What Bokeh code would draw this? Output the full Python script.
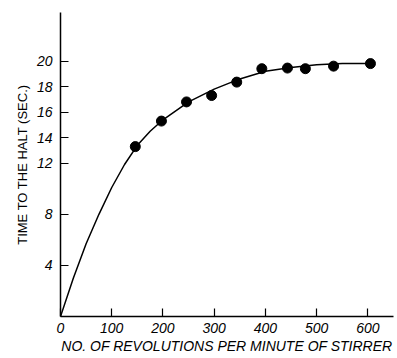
from bokeh.plotting import figure
from bokeh.models import FixedTicker, Range1d
from bokeh.embed import file_html
from bokeh.resources import INLINE

# measured points
rpm_pts = [146, 197, 246, 295, 344, 393, 443, 478, 533, 605]
time_pts = [13.3, 15.3, 16.8, 17.3, 18.35, 19.4, 19.45, 19.4, 19.6, 19.8]

# fitted curve
rpm_curve = [0, 25, 50, 75, 100, 125, 150, 175, 200, 250, 300, 350, 400, 450, 500, 550, 600]
time_curve = [0, 3.0, 5.7, 8.0, 10.1, 11.9, 13.4, 14.5, 15.4, 16.8, 17.8, 18.6, 19.2, 19.5, 19.7, 19.8, 19.8]

x_ticks = [0, 100, 200, 300, 400, 500, 600]
y_ticks = [4, 8, 12, 14, 16, 18, 20]

p = figure(width=397, height=358, output_backend="svg", toolbar_location=None,
           x_range=Range1d(0, 650), y_range=Range1d(0, 23.8),
           min_border_left=60, min_border_right=4, min_border_top=12, min_border_bottom=42)
p.outline_line_color = None
p.xgrid.visible = False
p.ygrid.visible = False
p.background_fill_color = "white"

p.line(rpm_curve, time_curve, line_color="black", line_width=1.5, line_join="round")
p.scatter(rpm_pts, time_pts, size=10, color="black")

font = "Liberation Sans"
for ax in (p.xaxis[0], p.yaxis[0]):
    ax.axis_line_color = "black"
    ax.axis_line_width = 1.5
    ax.major_tick_in = 8
    ax.major_tick_out = 0
    ax.minor_tick_line_color = None
    ax.major_tick_line_width = 1.2
    ax.major_label_text_font = font
    ax.major_label_text_font_style = "italic"
    ax.major_label_text_font_size = "14px"
    ax.major_label_text_color = "black"
    ax.axis_label_text_font = font
    ax.axis_label_text_font_style = "normal"
    ax.axis_label_text_font_size = "13px"
    ax.axis_label_text_color = "black"

p.xaxis.ticker = FixedTicker(ticks=x_ticks)
p.yaxis.ticker = FixedTicker(ticks=y_ticks)
p.xaxis.major_label_standoff = 6
p.yaxis.major_label_standoff = 8
p.xaxis.axis_label = "NO. OF REVOLUTIONS PER MINUTE OF STIRRER"
p.yaxis.axis_label = "TIME TO THE HALT (SEC.)"
p.xaxis.axis_label_standoff = 2
p.yaxis.axis_label_standoff = 4
p.xaxis.axis_label_text_font_style = "italic"
p.xaxis.axis_label_text_font_size = "14px"

open("out.html", "w").write(file_html(p, INLINE))
